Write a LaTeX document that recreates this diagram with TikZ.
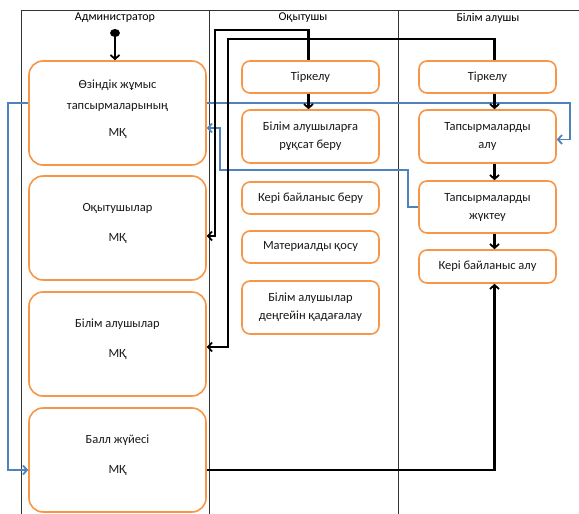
\documentclass[tikz,border=0pt]{standalone}
\usepackage{fontspec}
\setmainfont{Carlito}
\usetikzlibrary{arrows.meta,shapes.geometric}
\definecolor{boxorange}{HTML}{F79646}
\definecolor{linkblue}{HTML}{4F81BD}
\tikzset{
  lane/.style={draw=black!80, line width=.8pt},
  actbox/.style={draw=boxorange, line width=1.6pt, fill=white, align=center,
    text=black!90, inner sep=2pt},
  adminbox/.style={actbox, rounded corners=14pt, minimum width=177pt,
    minimum height=104pt, font=\fontsize{12.5}{21}\selectfont},
  userbox/.style={actbox, rounded corners=8pt, minimum width=137pt,
    font=\fontsize{12.5}{18}\selectfont},
  flow/.style={line width=2.2pt, -{Straight Barb[length=4pt,width=9pt,line width=1.8pt]}},
  blueflow/.style={flow, draw=linkblue, line width=1.6pt}
}
\begin{document}
\begin{tikzpicture}[x=1pt,y=-1pt] % ------ Administrator / teacher / student -----
    \useasboundingbox (0,0) rectangle (579,514);
    \draw [lane] (21,514)--(21,10)--(579,10);
    \draw [lane] (209,10)--(209,514);
    \draw [lane] (398,10)--(398,514);
    \node [font=\fontsize{12}{14}\selectfont] (hadmin) at (115,18) {Администратор};
    \node [font=\fontsize{12}{14}\selectfont] (hteach) at (303,18) {Оқытушы};
    \node [font=\fontsize{12}{14}\selectfont] (hstud) at (488,18) {Білім алушы};
    \node [fill, ellipse, minimum width=10pt, minimum height=8pt, inner sep=0pt] (start) at (115,33) {};
    % admin
    \node [adminbox] (adm1) at (117.5,113) {Өзіндік жұмыс\\тапсырмаларының\\[6pt]МҚ\\[-12pt]\mbox{}};
    \node [adminbox] (adm2) at (117.5,228) {Оқытушылар\\[9pt]МҚ\\[-10pt]\mbox{}};
    \node [adminbox] (adm3) at (117.5,344) {Білім алушылар\\[9pt]МҚ\\[-10pt]\mbox{}};
    \node [adminbox] (adm4) at (117.5,460) {Балл жүйесі\\[9pt]МҚ\\[-10pt]\mbox{}};
    % teacher
    \node [userbox, minimum height=32pt] (tch1) at (310.5,77) {Тіркелу};
    \node [userbox, minimum height=53pt] (tch2) at (310.5,136.5) {Білім алушыларға\\рұқсат беру};
    \node [userbox, minimum height=32pt] (tch3) at (310.5,198) {Кері байланыс беру};
    \node [userbox, minimum height=32pt] (tch4) at (310.5,247) {Материалды қосу};
    \node [userbox, minimum height=53pt] (tch5) at (310.5,307.5) {Білім алушылар\\деңгейін қадағалау};
    % student
    \node [userbox, minimum height=32pt] (stu1) at (487.5,77) {Тіркелу};
    \node [userbox, minimum height=53pt] (stu2) at (487.5,136.5) {Тапсырмаларды\\алу};
    \node [userbox, minimum height=52pt] (stu3) at (487.5,207) {Тапсырмаларды\\жүктеу};
    \node [userbox, minimum height=33pt] (stu4) at (487.5,266.5) {Кері байланыс алу};
    % blue links
    \draw [blueflow] ([yshift=10pt]adm1.east) -- (570,103) |- ([yshift=-3pt]stu2.east);
    \draw [blueflow] ([yshift=10pt]adm1.west) -- (8,103) |- ([yshift=-10pt]adm4.west);
    \draw [blueflow] (stu3.west) -- (408,207) |- (220,170) |- ([yshift=-15pt]adm1.east);
    % black links
    \draw [flow] (start) -- (start |- adm1.north);
    \draw [flow] ([xshift=-2pt]tch1.north) |- (215,30) |- ([yshift=-8pt]adm2.east);
    \draw [flow] ([xshift=7pt]stu1.north) |- (228,39) |- ([yshift=-3pt]adm3.east);
    \draw [flow] ([yshift=-10pt]adm4.east) -| ([xshift=7pt]stu4.south);
    \draw [flow] ([xshift=-2pt]tch1.south) -- ([xshift=-2pt]tch2.north);
    \draw [flow] ([xshift=7pt]stu1.south) -- ([xshift=7pt]stu2.north);
    \draw [flow] ([xshift=7pt]stu2.south) -- ([xshift=7pt]stu3.north);
    \draw [flow] ([xshift=7pt]stu3.south) -- ([xshift=7pt]stu4.north);
\end{tikzpicture}
\end{document}
